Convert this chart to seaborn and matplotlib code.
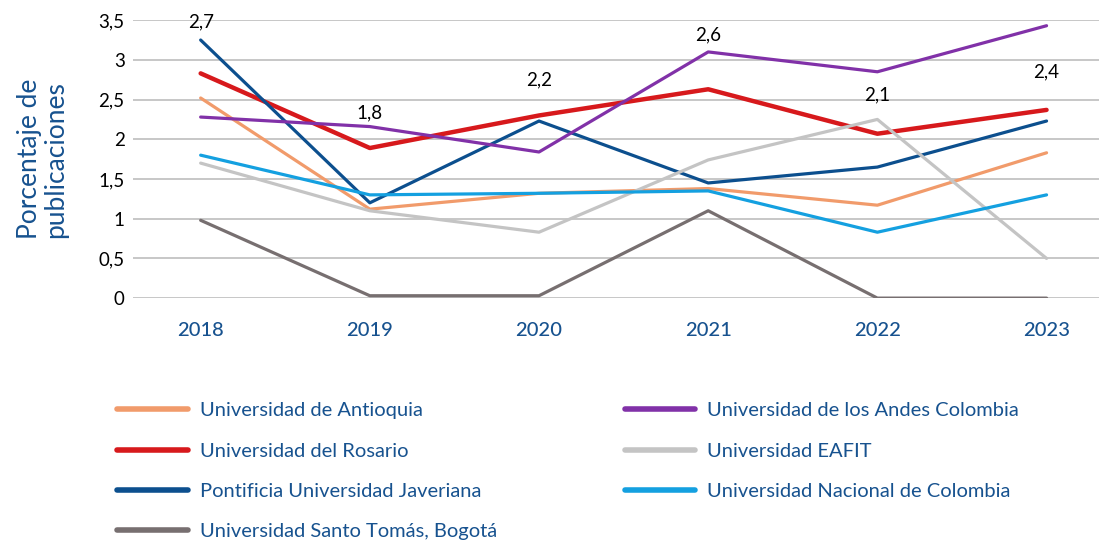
import numpy as np
import pandas as pd
import matplotlib
matplotlib.use("Agg")
import matplotlib.pyplot as plt
import seaborn as sns

# ----------------------------------------------------
# Data
# ----------------------------------------------------
years = ["2018", "2019", "2020", "2021", "2022", "2023"]

antioquia = [2.52, 1.12, 1.32, 1.38, 1.17, 1.83]
rosario = [2.83, 1.89, 2.30, 2.63, 2.07, 2.37]
javeriana = [3.25, 1.20, 2.23, 1.45, 1.65, 2.23]
santo_tomas = [0.98, 0.03, 0.03, 1.10, 0.00, 0.00]
andes = [2.28, 2.16, 1.84, 3.10, 2.85, 3.43]
eafit = [1.70, 1.10, 0.83, 1.74, 2.25, 0.50]
nacional = [1.80, 1.30, 1.32, 1.35, 0.83, 1.30]

universities = [
    "Universidad de Antioquia",
    "Universidad del Rosario",
    "Pontificia Universidad Javeriana",
    "Universidad Santo Tomás, Bogotá",
    "Universidad de los Andes Colombia",
    "Universidad EAFIT",
    "Universidad Nacional de Colombia",
]
series = [antioquia, rosario, javeriana, santo_tomas, andes, eafit, nacional]

# average labels shown above each year
avg_labels = ["2,7", "1,8", "2,2", "2,6", "2,1", "2,4"]
avg_label_y = [3.48, 2.33, 2.75, 3.31, 2.56, 2.85]

colors = {
    "Universidad de Antioquia": "#F19B6B",
    "Universidad del Rosario": "#D7191C",
    "Pontificia Universidad Javeriana": "#0C4F8E",
    "Universidad Santo Tomás, Bogotá": "#776F70",
    "Universidad de los Andes Colombia": "#8131A8",
    "Universidad EAFIT": "#C4C4C4",
    "Universidad Nacional de Colombia": "#14A0E0",
}
widths = {name: 2.3 for name in universities}
widths["Universidad del Rosario"] = 3.2

text_blue = "#17528F"

df = pd.DataFrame({
    "year": np.tile(np.arange(len(years)), len(universities)),
    "university": np.repeat(universities, len(years)),
    "value": np.concatenate(series),
})

sns.set_theme(style="white")
plt.rcParams["font.family"] = ["Lato", "DejaVu Sans"]

fig = plt.figure(figsize=(10.99, 5.45), dpi=100)
ax = fig.add_axes([0.121, 0.453, 0.879, 0.51])

for name in universities:
    sub = df[df["university"] == name]
    sns.lineplot(data=sub, x="year", y="value", ax=ax, color=colors[name],
                 linewidth=widths[name], label=name, legend=False)

for i, (txt, yy) in enumerate(zip(avg_labels, avg_label_y)):
    ax.text(i, yy, txt, ha="center", va="center", fontsize=13.5, color="black")

ax.set_xlim(-0.4, 5.31)
ax.set_ylim(0, 3.5)
ax.set_yticks(np.arange(0, 3.51, 0.5))
ax.set_yticklabels(["0", "0,5", "1", "1,5", "2", "2,5", "3", "3,5"])
ax.set_xticks(range(len(years)))
ax.set_xticklabels(years)
ax.grid(axis="y", color="#BDBDBD", linewidth=1.2)
ax.grid(axis="x", visible=False)
for s in ax.spines.values():
    s.set_visible(False)
ax.tick_params(axis="y", labelsize=13.5, labelcolor="black", pad=6, length=0)
ax.tick_params(axis="x", labelsize=14.5, labelcolor=text_blue, pad=17, length=0)
for t in ax.get_xticklabels():
    t.set_fontweight("medium")
ax.set_xlabel("")
ax.set_ylabel("Porcentaje de\npublicaciones", fontsize=19, color=text_blue,
              linespacing=1.05, labelpad=22)

handles, labels = ax.get_legend_handles_labels()
leg = fig.legend(handles, labels, ncol=2, loc="upper left",
                 bbox_to_anchor=(0.090, 0.295), frameon=False, fontsize=14.5,
                 handlelength=3.5, handletextpad=0.6, columnspacing=6.35,
                 labelspacing=1.15)
for t in leg.get_texts():
    t.set_color(text_blue)
for h in leg.get_lines():
    h.set_linewidth(4)

fig.savefig("out.png", dpi=100)
